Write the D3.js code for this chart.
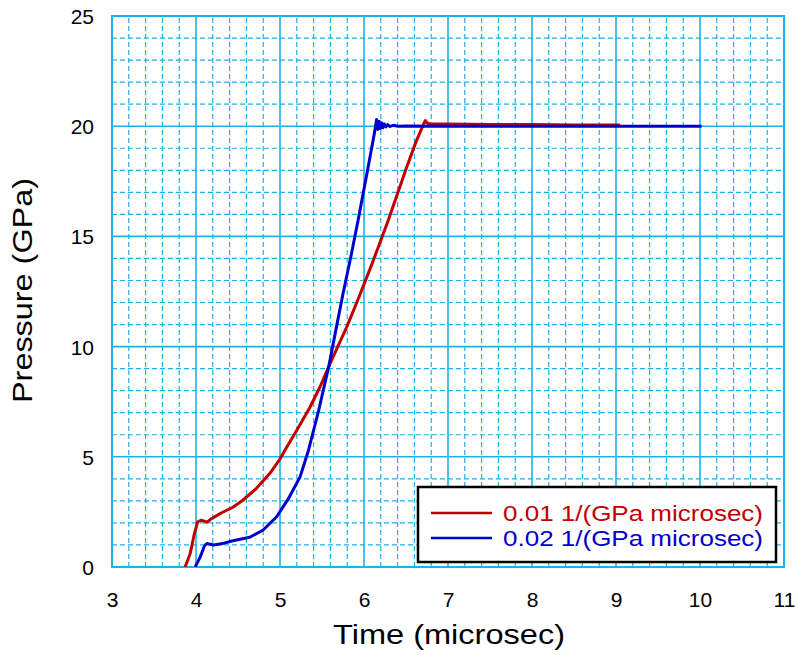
<!DOCTYPE html>
<html><head><meta charset="utf-8">
<script src="https://cdn.jsdelivr.net/npm/d3@7"></script>
<style>body{margin:0;background:#fff}svg{display:block}text{font-family:Arial,"Liberation Sans",sans-serif}</style>
</head><body>
<script>
const xTicks = [3,4,5,6,7,8,9,10,11];
const yTicks = [0,5,10,15,20,25];
const seriesNames = ["0.01 1/(GPa microsec)", "0.02 1/(GPa microsec)"];
const seriesColors = ["#c00000", "#0000cc"];
const redTime =  [3.87,3.93,3.98,4.02,4.06,4.10,4.13,4.17,4.21,4.30,4.44,4.56,4.72,4.88,5.00,5.06,5.20,5.36,5.48,5.58,5.70,5.79,5.93,6.10,6.29,6.51,6.62,6.71,6.73,6.76,6.80,7.0,7.5,8.0,8.5,9.05];
const redPress = [0.0,0.6,1.5,2.05,2.12,2.08,2.03,2.15,2.25,2.45,2.71,3.04,3.57,4.25,4.90,5.31,6.2,7.27,8.2,9.09,10.1,10.85,12.15,13.8,15.74,18.16,19.3,20.1,20.25,20.12,20.1,20.1,20.08,20.08,20.06,20.05];
const blueTime =  [3.99,4.05,4.10,4.13,4.16,4.21,4.30,4.44,4.64,4.80,4.96,5.10,5.24,5.34,5.46,5.58,5.67,5.75,5.85,5.93,6.05,6.12,6.15,6.165,6.18,6.195,6.21,6.225,6.24,6.26,6.28,6.31,6.35,6.40,6.50,7.0,8.0,9.0,10.02];
const bluePress = [0.0,0.45,0.95,1.07,1.04,1.0,1.05,1.19,1.35,1.68,2.28,3.1,4.1,5.31,7.1,9.09,10.85,12.4,14.2,15.74,18.16,19.6,20.3,19.85,20.22,19.9,20.15,19.93,20.1,19.97,20.07,19.99,20.04,20.0,20.01,20.0,20.0,20.0,20.0];
const minorX = d3.range(30,111,2).map(v=>v/10);
const minorY = d3.range(0,26,1);

const W=797,H=655;
const m={left:112,right:13,top:16,bottom:88};
const svg=d3.select("body").append("svg").attr("width",W).attr("height",H);
const x=d3.scaleLinear().domain([3,11]).range([m.left,W-m.right]);
const y=d3.scaleLinear().domain([0,25]).range([H-m.bottom,m.top]);
const grid="#1ab2ec";
const g=svg.append("g");
g.selectAll(".mx").data(minorX.filter(v=>Math.abs(v-Math.round(v))>1e-6)).join("line")
 .attr("x1",d=>x(d)).attr("x2",d=>x(d)).attr("y1",y(0)).attr("y2",y(25))
 .attr("stroke",grid).attr("stroke-width",1.2).attr("stroke-dasharray","5,3");
g.selectAll(".my").data(minorY.filter(v=>v%5!==0)).join("line")
 .attr("y1",d=>y(d)).attr("y2",d=>y(d)).attr("x1",x(3)).attr("x2",x(11))
 .attr("stroke",grid).attr("stroke-width",1.2).attr("stroke-dasharray","5,3");
g.selectAll(".Mx").data(xTicks).join("line")
 .attr("x1",d=>x(d)).attr("x2",d=>x(d)).attr("y1",y(0)).attr("y2",y(25))
 .attr("stroke",grid).attr("stroke-width",1.6);
g.selectAll(".My").data(yTicks).join("line")
 .attr("y1",d=>y(d)).attr("y2",d=>y(d)).attr("x1",x(3)).attr("x2",x(11))
 .attr("stroke",grid).attr("stroke-width",1.6);
g.append("rect").attr("x",x(3)).attr("y",y(25)).attr("width",x(11)-x(3)).attr("height",y(0)-y(25))
 .attr("fill","none").attr("stroke",grid).attr("stroke-width",2);

const xa=svg.append("g").attr("transform",`translate(0,${y(0)})`)
 .call(d3.axisBottom(x).tickValues(xTicks).tickSize(0).tickPadding(0).tickFormat(d3.format("d")));
xa.selectAll("text").attr("dy",null).attr("y",40);
const ya=svg.append("g").attr("transform",`translate(${x(3)},0)`)
 .call(d3.axisLeft(y).tickValues(yTicks).tickSize(0).tickPadding(18).tickFormat(d3.format("d")));
ya.selectAll("text").attr("dy","0.36em");
[xa,ya].forEach(a=>{a.select(".domain").remove();a.selectAll("text").attr("font-size",21).attr("fill","#000").style("font-family","Arial, 'Liberation Sans', sans-serif");});

svg.append("text").attr("x",333).attr("y",644).attr("font-size",27.5)
 .attr("textLength",232).attr("lengthAdjust","spacingAndGlyphs").text("Time (microsec)");
svg.append("text").attr("transform",`translate(32,403) rotate(-90)`)
 .attr("font-size",27.5).attr("textLength",225).attr("lengthAdjust","spacingAndGlyphs").text("Pressure (GPa)");

const line=d3.line().x(d=>x(d[0])).y(d=>y(d[1]));
svg.append("clipPath").attr("id","c").append("rect").attr("x",x(3)).attr("y",y(25)-5).attr("width",x(11)-x(3)).attr("height",y(0)-y(25)+5);
const redData=redTime.map((t,i)=>[t,redPress[i]]);
const blueData=blueTime.map((t,i)=>[t,bluePress[i]]);
[redData,blueData].forEach((d,i)=>{
 svg.append("path").datum(d).attr("d",line).attr("fill","none").attr("stroke",seriesColors[i])
  .attr("stroke-width",3).attr("stroke-linejoin","round").attr("clip-path","url(#c)");
});

const lg=svg.append("g");
lg.append("rect").attr("x",418).attr("y",487).attr("width",358).attr("height",75)
 .attr("fill","#fff").attr("stroke","#000").attr("stroke-width",2.5);
seriesNames.forEach((n,i)=>{
 const yy=513+i*25;
 lg.append("line").attr("x1",431).attr("x2",492).attr("y1",yy).attr("y2",yy).attr("stroke",seriesColors[i]).attr("stroke-width",2.5);
 lg.append("text").attr("x",503).attr("y",yy+8).attr("font-size",22).attr("fill",seriesColors[i])
  .attr("textLength",260).attr("lengthAdjust","spacingAndGlyphs").text(n);
});
</script>
</body></html>
